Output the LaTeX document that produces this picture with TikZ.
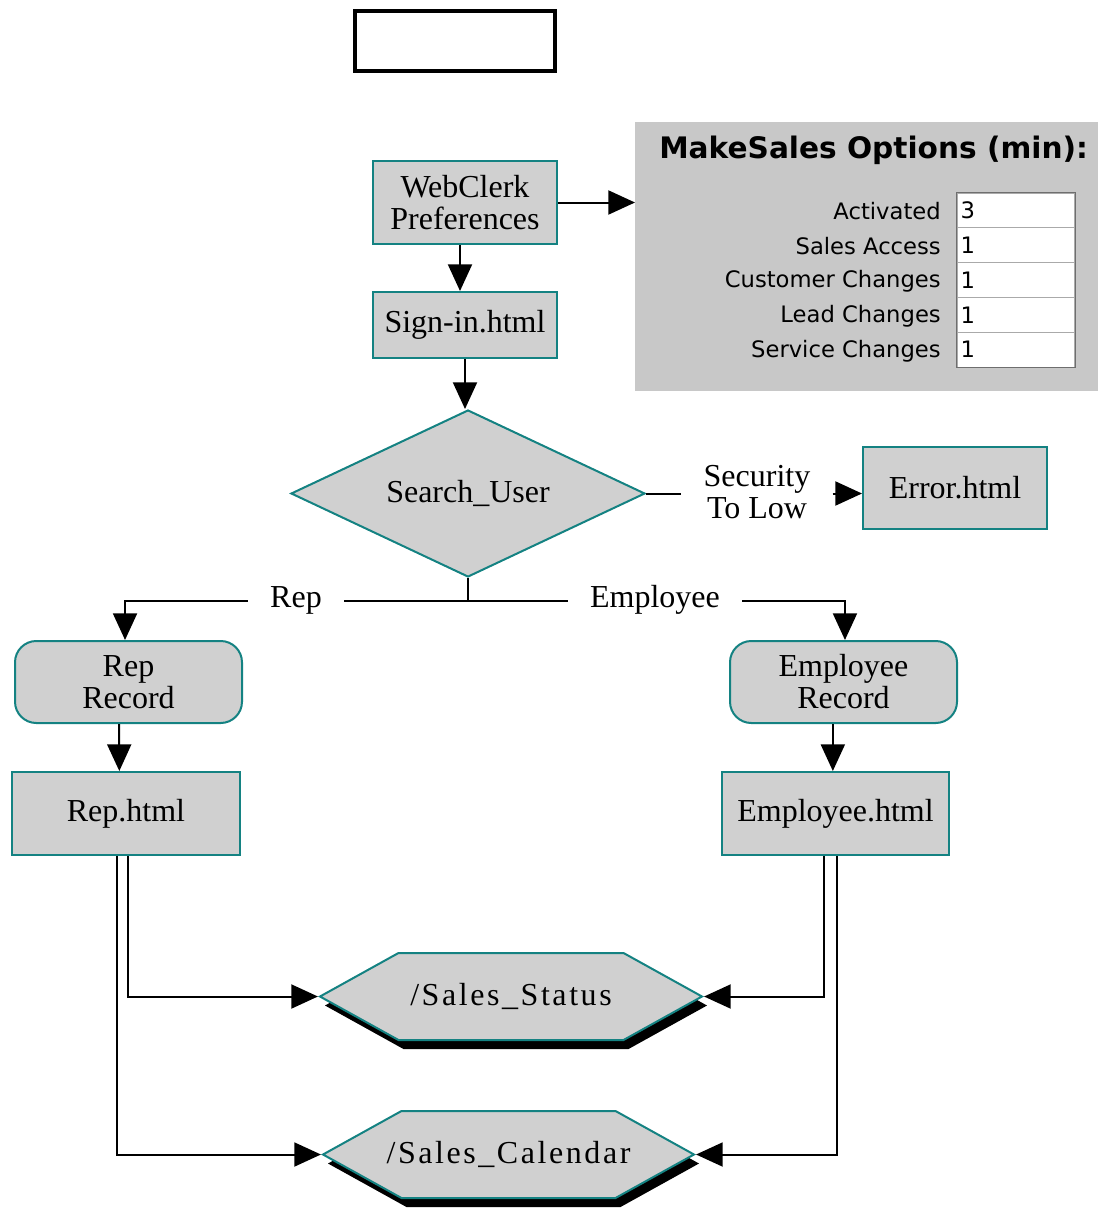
\documentclass[tikz,border=0pt]{standalone}
\usepackage{fontspec}
\setmainfont{Liberation Serif}
\newfontfamily\panelfont{DejaVu Sans}
\newfontfamily\hexfont[LetterSpace=8]{Liberation Serif}
\usetikzlibrary{arrows.meta,shapes.geometric,shapes.symbols,shadows}

\definecolor{boxfill}{RGB}{208,208,208}
\definecolor{edgeteal}{RGB}{20,130,130}
\definecolor{panelgray}{RGB}{200,200,200}
\definecolor{cellline}{RGB}{170,170,170}
\definecolor{cellframe}{RGB}{110,110,110}

\begin{document}
\begin{tikzpicture}[x=0.75pt,y=-0.75pt,
  font=\fontsize{24}{24}\selectfont,
  flow/.style={draw=edgeteal,line width=1.5pt,fill=boxfill,align=center,inner sep=0pt},
  page/.style={flow,rectangle},
  record/.style={flow,rectangle,rounded corners=16pt},
  decision/.style={flow,diamond,aspect=2.1},
  script/.style={flow,signal,signal to=west and east,signal pointer angle=58,
    font=\hexfont\fontsize{24}{24}\selectfont,
    drop shadow={shadow xshift=3.75pt,shadow yshift=-6.75pt,fill=black,opacity=1}},
  lbl/.style={align=center,inner xsep=16.5pt,inner ysep=0pt},
  arr/.style={line width=1.5pt,-{Triangle[length=20pt,width=18pt]}},
  conn/.style={line width=1.5pt},
  plabel/.style={anchor=east,inner sep=0pt,font=\panelfont\fontsize{17}{17}\selectfont},
  cell/.style={draw=cellline,line width=0.8pt,fill=white,minimum width=88.5pt,minimum height=26.1pt,inner sep=0pt},
  cellval/.style={anchor=west,inner sep=0pt,font=\panelfont\fontsize{17}{17}\selectfont}]

\fill[white] (0,0) rectangle (1098,1209);
\useasboundingbox (0,0) rectangle (1098,1209);

% empty title frame
\node[draw,line width=3.5pt,fill=white,minimum width=150pt,minimum height=45pt,inner sep=0pt] (topbox) at (455,41) {};

% options panel
\node[fill=panelgray,minimum width=347.25pt,minimum height=201.75pt,inner sep=0pt,anchor=north west] (panel) at (635,122) {};
\node[anchor=west,inner sep=0pt,font=\panelfont\bfseries\fontsize{22.2}{22}\selectfont] (ptitle) at (659,150) {MakeSales Options (min):};
\node[cell] (c1) at (1016,210.5) {};
\node[cell] (c2) at (1016,245.3) {};
\node[cell] (c3) at (1016,280.1) {};
\node[cell] (c4) at (1016,314.9) {};
\node[cell] (c5) at (1016,349.7) {};
\draw[cellframe,line width=1.2pt] (c1.north west) rectangle (c5.south east);
\node[plabel] (l1) at (941,211) {Activated};
\node[plabel] (l2) at (941,246) {Sales Access};
\node[plabel] (l3) at (941,281) {Customer Changes};
\node[plabel] (l4) at (941,316) {Lead Changes};
\node[plabel] (l5) at (941,351) {Service Changes};
\node[cellval] (v1) at ([xshift=3pt]c1.west) {3};
\node[cellval] (v2) at ([xshift=3pt]c2.west) {1};
\node[cellval] (v3) at ([xshift=3pt]c3.west) {1};
\node[cellval] (v4) at ([xshift=3pt]c4.west) {1};
\node[cellval] (v5) at ([xshift=3pt]c5.west) {1};

% flow nodes
\node[page,minimum width=138pt,minimum height=62.25pt] (web) at (465,202.5) {WebClerk\\Preferences};
\node[page,minimum width=138pt,minimum height=49.5pt] (sign) at (465,325) {Sign-in.html};
\node[decision,minimum width=265.5pt,minimum height=125.25pt] (search) at (468,493.5) {Search\_User};
\node[page,minimum width=138pt,minimum height=61.5pt] (err) at (955,488) {Error.html};
\node[record,minimum width=170.25pt,minimum height=61.5pt] (reprec) at (128.5,682) {Rep\\Record};
\node[record,minimum width=170.25pt,minimum height=61.5pt] (emprec) at (843.5,682) {Employee\\Record};
\node[page,minimum width=171pt,minimum height=62.25pt] (rephtml) at (126,813.5) {Rep.html};
\node[page,minimum width=170.25pt,minimum height=62.25pt] (emphtml) at (835.5,813.5) {Employee.html};
\node[script,minimum width=286.5pt,minimum height=65.25pt] (status) at (511,996.5) {/Sales\_Status};
\node[script,inner xsep=-11.5pt,minimum width=278.25pt,minimum height=65.25pt] (cal) at (508.5,1154.5) {/Sales\_Calendar};

% branch labels
\node[lbl] (sec) at (757,492) {Security\\To Low};
\node[lbl] (rep) at (296,600) {Rep};
\node[lbl] (emp) at (655,600) {Employee};
\coordinate (j) at (468,601);

% connectors
\draw[arr] (web.east) -- (panel.west |- web.east);
\draw[arr] ([xshift=-3.75pt]web.south) -- ([xshift=-3.75pt]sign.north);
\draw[arr] (sign.south) -- (sign.south |- search.north);
\draw[conn] (search.east) -- (search.east -| sec.west);
\draw[arr] (sec.east |- search.east) -- (err.west |- search.east);
\draw[conn] (search.south) -- (j);
\draw[conn] (j) -- (rep.east |- j);
\draw[arr] (rep.west |- j) -| ([xshift=-2.6pt]reprec.north);
\draw[conn] (j) -- (emp.west |- j);
\draw[arr] (emp.east |- j) -| ([xshift=1.1pt]emprec.north);
\draw[arr] ([xshift=-7pt]reprec.south) -- ([xshift=-5pt]rephtml.north);
\draw[arr] ([xshift=-8pt]emprec.south) -- ([xshift=-2pt]emphtml.north);
\draw[arr] ([xshift=1.5pt]rephtml.south) |- (status.west);
\draw[arr] ([xshift=-6.75pt]rephtml.south) |- (cal.west);
\draw[arr] ([xshift=-8.6pt]emphtml.south) |- (status.east);
\draw[arr] ([xshift=1.1pt]emphtml.south) |- (cal.east);
\end{tikzpicture}
\end{document}
